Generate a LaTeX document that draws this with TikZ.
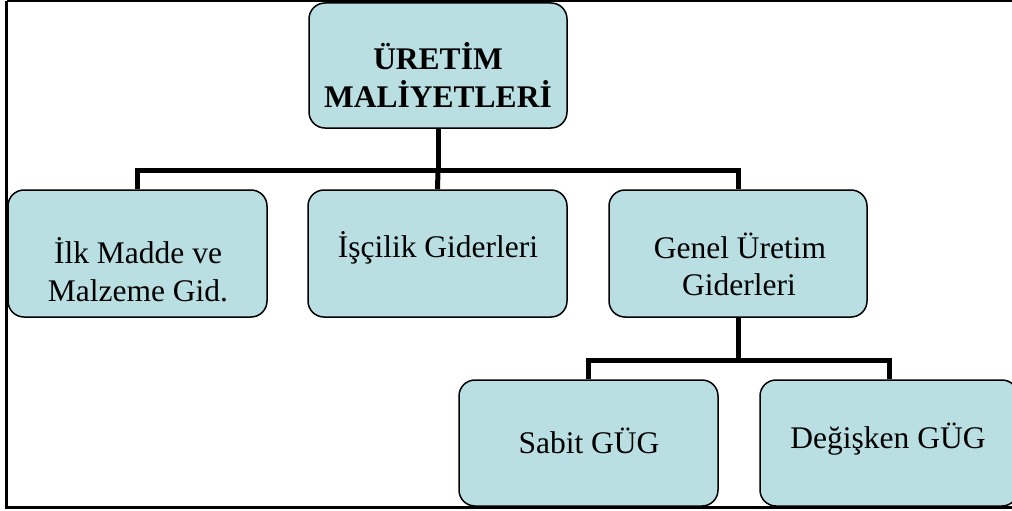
\documentclass[tikz,border=0pt]{standalone}
\usepackage{fontspec}
\setmainfont{Liberation Serif}
\definecolor{boxfill}{RGB}{185,223,226}
\tikzset{
  box/.style={draw=black, fill=boxfill, line width=1.5pt, rounded corners=16pt, inner sep=0pt},
  conn/.style={draw=black, line width=5pt},
  frame/.style={draw=black},
  txt/.style={anchor=base, inner sep=0pt, font=\fontsize{31.5}{37.5}\selectfont},
  btxt/.style={txt, font=\fontsize{31.5}{37.5}\selectfont\bfseries},
}
\begin{document}
\begin{tikzpicture}[x=1pt,y=-1pt]
\useasboundingbox (0,0) rectangle (1012,511);
% boxes
\node[box, minimum width=258pt, minimum height=125pt] (top) at (438,65.5) {};
\node[box, minimum width=259pt, minimum height=127pt] (b1) at (137.5,253.5) {};
\node[box, minimum width=259pt, minimum height=127pt] (b2) at (437.5,253.5) {};
\node[box, minimum width=258pt, minimum height=127pt] (b3) at (738,253.5) {};
\node[box, minimum width=259pt, minimum height=126pt] (b4) at (588.5,443) {};
\node[box, minimum width=258pt, minimum height=126pt] (b5) at (889,443) {};
% connectors
\draw[conn] (top.south) -- ++(0,42) coordinate (j1);
\draw[conn] (b1.north) |- (j1) -| (b3.north);
\draw[conn] (j1) -- (b2.north);
\draw[conn] (b3.south) -- ++(0,43) coordinate (j2);
\draw[conn] (b4.north) |- (j2) -| (b5.north);
% texts
\node[btxt] (tt1) at (438,70) {ÜRETİM};
\node[btxt] (tt2) at (438,107) {MALİYETLERİ};
\node[txt] (t1a) at (138,263) {İlk Madde ve};
\node[txt] (t1b) at (138,301) {Malzeme Gid.};
\node[txt] (t2) at (438,257) {İşçilik Giderleri};
\node[txt] (t3a) at (740,258) {Genel Üretim};
\node[txt] (t3b) at (739,295) {Giderleri};
\node[txt] (t4) at (589,453) {Sabit GÜG};
\node[txt] (t5) at (888,448) {Değişken GÜG};
% outer frame (no right side)
\coordinate (ftr) at (1012,1);
\coordinate (ftl) at (6.5,1);
\coordinate (fbl) at (6.5,507.5);
\coordinate (fbr) at (1012,507.5);
\draw[frame, line width=2pt] (ftr) -- (ftl);
\draw[frame, line width=3pt] (ftl) -- (fbl) -- (fbr);
\end{tikzpicture}
\end{document}
